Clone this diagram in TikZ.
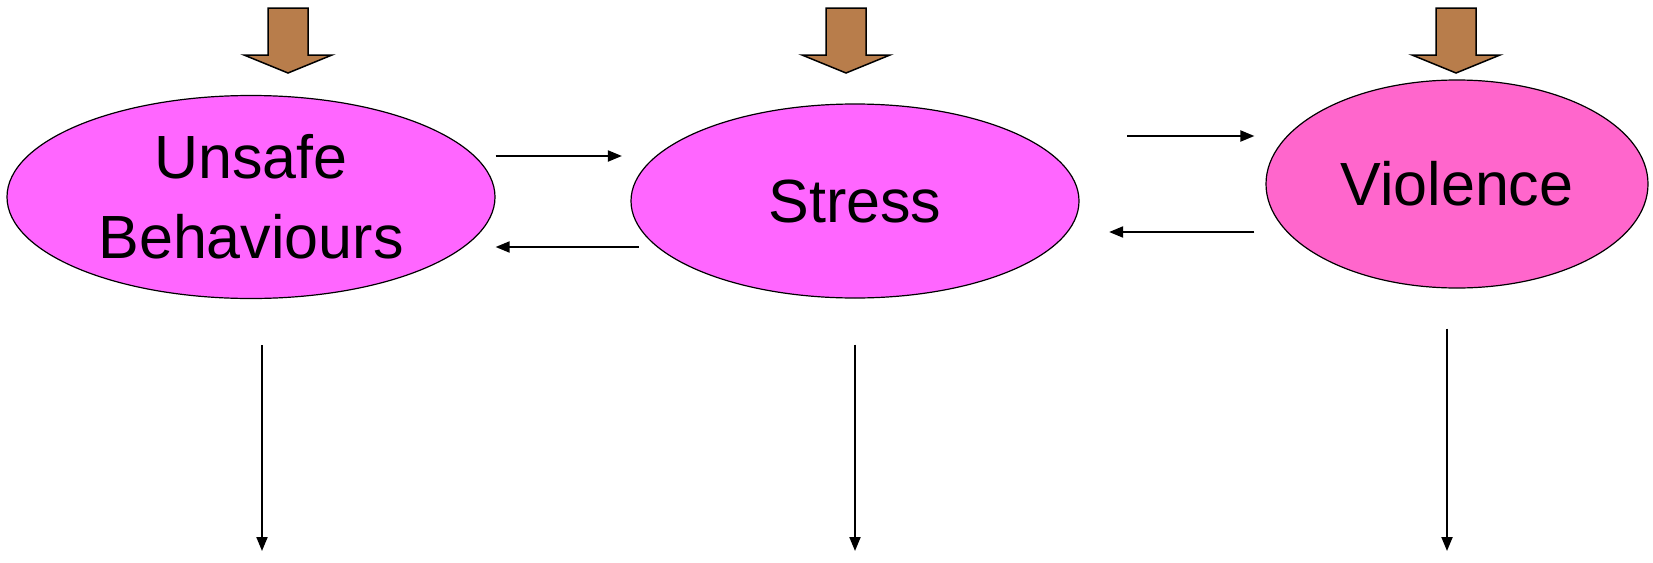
\documentclass[tikz,border=0pt]{standalone}
\usepackage{fontspec}
\setmainfont{Liberation Sans}
\usepackage{xcolor}
\usepackage{tikz}
\usetikzlibrary{shapes.geometric, arrows.meta}

\definecolor{blobpink}{HTML}{FF66FF}
\definecolor{hotpink}{HTML}{FF66CC}
\definecolor{brownarrow}{HTML}{B87D4B}

\tikzset{
    factor/.style={ellipse, draw=black, line width=1.2pt, inner sep=0pt, align=center,
        font=\fontsize{61}{80}\selectfont},
    link/.style={line width=2pt, -{Triangle[length=14pt,width=11pt]}}
}

\begin{document}
\begin{tikzpicture}[x=1pt, y=-1pt]
        \useasboundingbox (0,0) rectangle (1653,562);
        \node[factor, fill=blobpink, minimum width=488pt, minimum height=203pt] (unsafe) at (251,197) {Unsafe\\Behaviours};
        \node[factor, fill=blobpink, minimum width=448pt, minimum height=194pt] (stress) at (855,201) {Stress};
        \node[factor, fill=hotpink, minimum width=382pt, minimum height=208pt] (violence) at (1457,184) {Violence};
        % inputs from above
        \foreach \cx in {288, 846, 1456}
            \draw[fill=brownarrow, line width=1.5pt] (\cx-20,8) -- (\cx+20,8) -- (\cx+20,55) -- (\cx+44,55)
                -- (\cx,73) -- (\cx-44,55) -- (\cx-20,55) -- cycle;
        % links between factors
        \draw[link] ([yshift=41pt]unsafe.east) -- ([xshift=-8.5pt,yshift=45pt]stress.west);
        \draw[link] ([xshift=8.5pt,yshift=-46pt]stress.west) -- ([yshift=-50pt]unsafe.east);
        \draw[link] ([xshift=47.5pt,yshift=65pt]stress.east) -- ([xshift=-11pt,yshift=48pt]violence.west);
        \draw[link] ([xshift=-11pt,yshift=-48pt]violence.west) -- ([xshift=29.5pt,yshift=-31pt]stress.east);
        % outcomes below
        \coordinate (out1) at (262,551);
        \coordinate (out2) at (855,551);
        \coordinate (out3) at (1447,551);
        \draw[link] ([xshift=11pt,yshift=-46pt]unsafe.south) -- (out1);
        \draw[link] ([yshift=-46pt]stress.south) -- (out2);
        \draw[link] ([xshift=-10pt,yshift=-40pt]violence.south) -- (out3);
    \end{tikzpicture}
\end{document}
